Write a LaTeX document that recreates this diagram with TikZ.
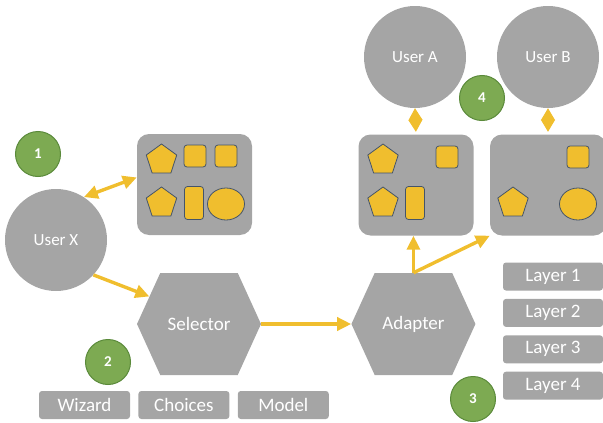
\documentclass[tikz,border=0pt]{standalone}
\usepackage{fontspec}
\setmainfont{Carlito}
\usetikzlibrary{arrows.meta,positioning,shapes.geometric,shapes.symbols}

\definecolor{boxgray}{HTML}{A5A5A5}
\definecolor{arrowgold}{HTML}{F0BE2E}
\definecolor{iconline}{HTML}{44546A}
\definecolor{stepgreen}{HTML}{7DAA52}
\definecolor{stepline}{HTML}{5A8A3A}

\tikzset{
  user/.style={circle, fill=boxgray, minimum size=102pt, text=white, font=\fontsize{17}{20}\selectfont},
  badge/.style={circle, fill=stepgreen, draw=stepline, line width=1pt, minimum size=45pt, inner sep=0pt, text=white, font=\fontsize{15}{17}\selectfont\bfseries},
  panel/.style={rectangle, rounded corners=12pt, fill=boxgray, minimum width=115pt, minimum height=101pt},
  hexa/.style={signal, signal to=west and east, signal pointer angle=131, fill=boxgray, minimum width=124pt, minimum height=102pt, inner sep=0pt, text=white, font=\fontsize{19}{22}\selectfont},
  tag/.style={rectangle, rounded corners=3pt, fill=boxgray, minimum width=91pt, minimum height=28pt, inner sep=0pt, text=white, font=\fontsize{19}{22}\selectfont},
  icon/.style={fill=arrowgold, draw=iconline, line width=0.8pt, inner sep=0pt},
  penta/.style={icon, regular polygon, regular polygon sides=5, minimum size=32pt},
  sq/.style={icon, rectangle, rounded corners=3pt, minimum size=22pt},
  tall/.style={sq, minimum width=19pt, minimum height=33pt},
  oval/.style={icon, ellipse, minimum width=37pt, minimum height=32pt},
  flow/.style={draw=arrowgold, line width=3.4pt, -{Triangle[length=14pt,width=13pt]}},
  flowboth/.style={flow, {Triangle[length=14pt,width=13pt]}-{Triangle[length=14pt,width=13pt]}},
  link/.style={draw=arrowgold, fill=arrowgold, line width=1pt, shorten >=2.5pt, {Triangle[length=12pt,width=14pt]}-{Triangle[length=12pt,width=14pt]}}
}

\begin{document}
\begin{tikzpicture}[x=1pt, y=-1pt, node distance=8pt]
    \useasboundingbox (0,0) rectangle (603,423);

    % users and panels
    \node[user] (ux) at (56,240) {User X};
    \node[user] (ua) at (415,57) {User A};
    \node[user] (ub) at (548,57) {User B};
    \node[panel] (px) at (194.5,184.5) {};
    \node[panel] (pa) at (416,185) {};
    \node[panel, minimum width=116pt] (pb) at (548,185) {};

    % icons
    \node[penta] (x1) at (161.5,160) {};
    \node[sq] (x2) at (195,156) {};
    \node[sq] (x3) at (226,156) {};
    \node[penta] (x4) at (161.5,203) {};
    \node[tall] (x5) at (194,203) {};
    \node[oval] (x6) at (226,204) {};
    \node[penta] (a1) at (383,160) {};
    \node[sq] (a2) at (447,157) {};
    \node[penta] (a3) at (383,203) {};
    \node[tall] (a4) at (415,203) {};
    \node[sq] (b1) at (578,157) {};
    \node[penta] (b2) at (513,203) {};
    \node[oval] (b3) at (578,204) {};

    % hexagons
    \node[hexa] (sel) at (199,324) {Selector};
    \node[hexa, right=90pt of sel] (ad) {Adapter};

    % labels
    \node[tag] (wiz) at (84.5,405) {Wizard};
    \node[tag, right=of wiz] (cho) {Choices};
    \node[tag, right=of cho] (mod) {Model};
    \node[tag, minimum width=100pt] (l1) at (553,276.5) {Layer 1};
    \node[tag, minimum width=100pt, below=of l1] (l2) {Layer 2};
    \node[tag, minimum width=100pt, below=of l2] (l3) {Layer 3};
    \node[tag, minimum width=100pt, below=of l3] (l4) {Layer 4};

    % steps
    \node[badge] (n1) at (38,154) {1};
    \node[badge] (n2) at (108,362) {2};
    \node[badge] (n3) at (473,399) {3};
    \node[badge] (n4) at (482,98) {4};

    \path
    (ux.57) edge[flowboth] (px.173)
    (ux.-43) edge[flow] (sel.151)
    (sel.east) edge[flow] (ad.west)
    (ad.north) edge[flow] (ad.north |- pa.south)
    (ad.north) edge[flow] (pb.south west)
    (ua.south) edge[link] (pa.north)
    (ub.south) edge[link] (pb.north);
  \end{tikzpicture}
\end{document}
